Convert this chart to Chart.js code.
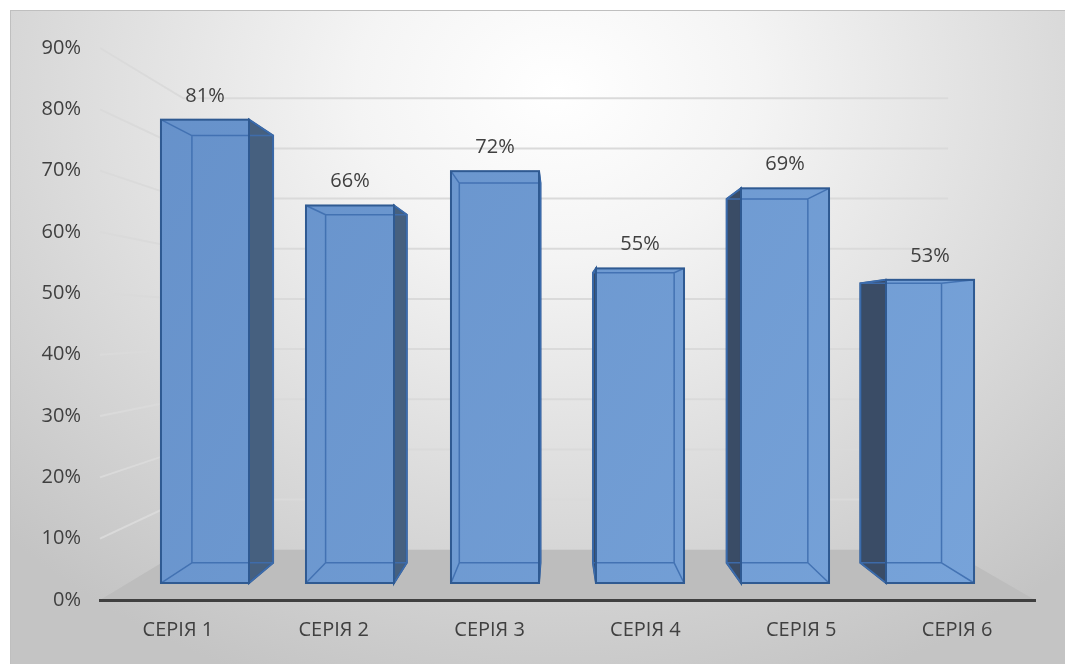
<!DOCTYPE html>
<html>
<head>
<meta charset="utf-8">
<script src="https://cdn.jsdelivr.net/npm/chart.js@4"></script>
<style>
  html, body { margin: 0; padding: 0; background: #fff; }
  #wrap { position: relative; width: 1065px; height: 664px; overflow: hidden; }
  #bg {
    position: absolute; left: 10px; top: 10px; width: 1070px; height: 670px;
    border: 1px solid #bfbfbf;
    background: radial-gradient(ellipse 72% 95% at 51% 12%, #ffffff 0%, #f4f4f4 26%, #dadada 66%, #c4c4c4 100%);
  }
  canvas { position: absolute; left: 0; top: 0; }
</style>
</head>
<body>
<div id="wrap">
  <div id="bg"></div>
  <canvas id="myChart" width="1065" height="664"></canvas>
</div>
<script>
const categories = ["СЕРІЯ 1", "СЕРІЯ 2", "СЕРІЯ 3", "СЕРІЯ 4", "СЕРІЯ 5", "СЕРІЯ 6"];
const values = [81, 66, 72, 55, 69, 53];
const yMax = 90;
const yStep = 10;

// perspective: back face of a box and the floor/back wall shrink toward a vanishing point
const BOX_K = 0.922;
const FLOOR_K = 0.818;
const FONT = "'Open Sans', sans-serif";
const TEXT = "#404040";

function vanish(a) {
  return { x: (a.left + a.right) / 2 - 10, y: (a.top + a.bottom) / 2 };
}

const box3d = {
  id: "box3d",
  beforeDraw(chart) {
    const { ctx, chartArea: a, scales } = chart;
    const vp = vanish(a);
    const P = (x, y, k) => [vp.x + (x - vp.x) * k, vp.y + (y - vp.y) * k];
    const fl = P(a.left, a.bottom, FLOOR_K), fr = P(a.right, a.bottom, FLOOR_K);
    ctx.save();
    // floor
    ctx.fillStyle = "#bdbdbd";
    ctx.beginPath();
    ctx.moveTo(a.left, a.bottom);
    ctx.lineTo(a.right, a.bottom);
    ctx.lineTo(fr[0], fr[1]);
    ctx.lineTo(fl[0], fl[1]);
    ctx.closePath();
    ctx.fill();
    // gridlines on the left and back walls
    ctx.strokeStyle = "#dadada";
    ctx.lineWidth = 2;
    scales.y.ticks.forEach(t => {
      if (t.value === 0) return;
      const fy = scales.y.getPixelForValue(t.value);
      const b = P(a.left, fy, FLOOR_K), c = P(a.right, fy, FLOOR_K);
      ctx.beginPath();
      ctx.moveTo(a.left, fy);
      ctx.lineTo(b[0], b[1]);
      ctx.lineTo(c[0], c[1]);
      ctx.stroke();
    });
    ctx.restore();
  },
  beforeDatasetsDraw(chart) {
    // side faces
    const { ctx, chartArea: a } = chart;
    const vp = vanish(a);
    const P = (x, y) => [vp.x + (x - vp.x) * BOX_K, vp.y + (y - vp.y) * BOX_K];
    ctx.save();
    chart.getDatasetMeta(0).data.forEach(el => {
      const { x, y, base, width } = el.getProps(["x", "y", "base", "width"], true);
      const right = x < vp.x;
      const ex = right ? x + width / 2 : x - width / 2;
      const t = P(ex, y), b = P(ex, base);
      ctx.fillStyle = right ? "#46607f" : "#3a4c66";
      ctx.strokeStyle = "#2f5a92";
      ctx.lineWidth = 2;
      ctx.beginPath();
      ctx.moveTo(ex, y);
      ctx.lineTo(t[0], t[1]);
      ctx.lineTo(b[0], b[1]);
      ctx.lineTo(ex, base);
      ctx.closePath();
      ctx.fill();
      ctx.stroke();
    });
    ctx.restore();
  },
  afterDatasetsDraw(chart) {
    const { ctx, chartArea: a } = chart;
    const vp = vanish(a);
    const P = (x, y) => [vp.x + (x - vp.x) * BOX_K, vp.y + (y - vp.y) * BOX_K];
    ctx.save();
    chart.getDatasetMeta(0).data.forEach((el, i) => {
      const { x, y, base, width } = el.getProps(["x", "y", "base", "width"], true);
      const L = x - width / 2, R = x + width / 2;
      const c = [[L, y], [R, y], [R, base], [L, base]];
      const bc = c.map(p => P(p[0], p[1]));
      // back edges seen through the front
      ctx.strokeStyle = "rgba(62,110,175,0.9)";
      ctx.lineWidth = 1.5;
      ctx.beginPath();
      bc.forEach((p, j) => j ? ctx.lineTo(p[0], p[1]) : ctx.moveTo(p[0], p[1]));
      ctx.closePath();
      c.forEach((p, j) => { ctx.moveTo(p[0], p[1]); ctx.lineTo(bc[j][0], bc[j][1]); });
      ctx.stroke();
      // front outline
      ctx.strokeStyle = "#2f5a92";
      ctx.lineWidth = 2;
      ctx.strokeRect(L, y, width, base - y);
      // value label
      ctx.fillStyle = TEXT;
      ctx.font = "20px " + FONT;
      ctx.textAlign = "center";
      ctx.textBaseline = "alphabetic";
      ctx.fillText(values[i] + "%", x, y - 18);
    });
    ctx.restore();
  }
};

const ctx = document.getElementById("myChart");

new Chart(ctx, {
  type: "bar",
  data: {
    labels: categories,
    datasets: [
      {
        data: values.map((v, i) => ({ x: i, y: v })),
        xAxisID: "xb",
        yAxisID: "yb",
        backgroundColor: c => {
          const a = c.chart.chartArea;
          if (!a) return "#6692cb";
          const g = c.chart.ctx.createLinearGradient(a.left, a.top, a.right, a.bottom);
          g.addColorStop(0, "#6590c9");
          g.addColorStop(1, "#78a4da");
          return g;
        },
        borderWidth: 0,
        categoryPercentage: 1,
        barPercentage: 0.607
      }
    ]
  },
  options: {
    responsive: false,
    animation: false,
    layout: { padding: { top: 48, right: 30, left: 0, bottom: 0 } },
    plugins: {
      legend: { display: false },
      tooltip: { enabled: false }
    },
    scales: {
      x: {
        type: "category",
        offset: true,
        grid: { display: false, drawTicks: false },
        border: { display: true, color: "#404040", width: 3 },
        ticks: { color: TEXT, font: { family: FONT, size: 20 }, padding: 18, maxRotation: 0 },
        afterFit: s => { s.height = 64; }
      },
      xb: {
        type: "linear",
        axis: "x",
        display: false,
        offset: false,
        grid: { offset: false },
        ticks: { stepSize: 1, includeBounds: false },
        min: -0.724,
        max: 5.724
      },
      y: {
        min: 0,
        max: yMax,
        grid: { display: false, drawTicks: false },
        border: { display: false },
        ticks: {
          stepSize: yStep,
          color: TEXT,
          font: { family: FONT, size: 20 },
          padding: 19,
          callback: v => v + "%"
        },
        afterFit: s => { s.width = 100; }
      },
      yb: {
        type: "linear",
        axis: "y",
        display: false,
        min: -2.97,
        max: 93.53
      }
    }
  },
  plugins: [box3d]
});
</script>
</body>
</html>
